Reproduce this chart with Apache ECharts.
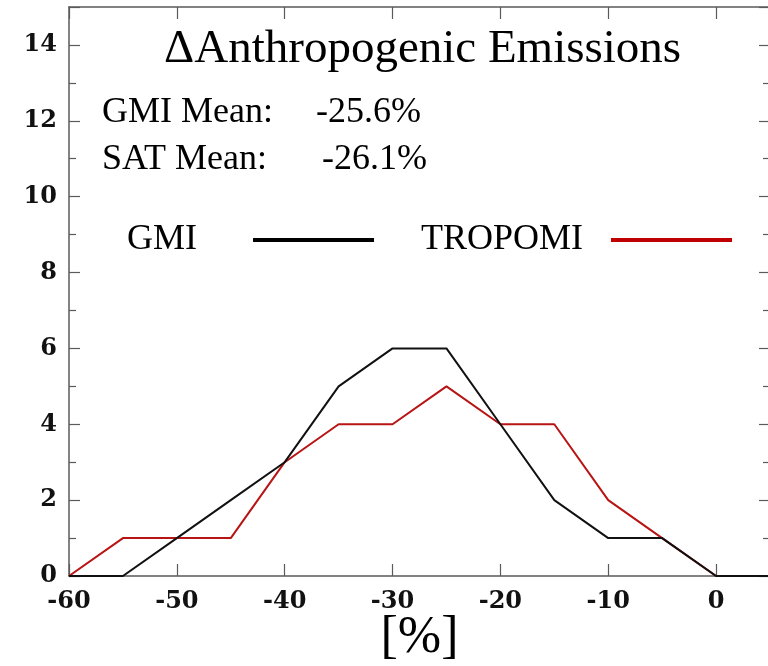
<!DOCTYPE html>
<html>
<head>
<meta charset="utf-8">
<script src="https://cdn.jsdelivr.net/npm/echarts@6/dist/echarts.min.js"></script>
<style>
  html, body { margin: 0; padding: 0; background: #fff; }
  #chart { width: 768px; height: 666px; }
</style>
</head>
<body>
<div id="chart"></div>
<script>
// bin centres [%] and counts
var binX = [-60, -55, -50, -45, -40, -35, -30, -25, -20, -15, -10, -5, 0, 5];
var gmiCounts = [0, 0, 1, 2, 3, 5, 6, 6, 4, 2, 1, 1, 0, 0];
var tropomiCounts = [0, 1, 1, 1, 3, 4, 4, 5, 4, 4, 2, 1, 0, 0];
var gmiMean = '-25.6%';
var satMean = '-26.1%';

var toPairs = function (xs, ys) {
    var out = [];
    for (var i = 0; i < xs.length; i++) {
        out.push([xs[i], ys[i]]);
    }
    return out;
};

var axisGray = '#5a5a5a';
var serif = '"Liberation Serif", "Times New Roman", serif';
var tickFont = '"DejaVu Serif", serif';

var myChart = echarts.init(document.getElementById('chart'));

// legend text first, then a long line; fixed-width rich box keeps the gap
var legendBox = function (left, textWidth, name) {
    return {
        data: [name],
        left: left,
        top: 217,
        align: 'right',
        icon: 'rect',
        itemWidth: 121,
        itemHeight: 4,
        formatter: '{t|{name}}',
        textStyle: {
            rich: {
                t: { fontFamily: serif, fontSize: 36, color: '#000', width: textWidth, align: 'left' }
            }
        }
    };
};

var option = {
    animation: false,
    backgroundColor: '#fff',
    title: {
        text: '\u0394Anthropogenic Emissions',
        left: 159,
        top: 21,
        textStyle: { fontFamily: serif, fontSize: 47, fontWeight: 'normal', color: '#000' }
    },
    legend: [
        legendBox(122, 121, 'GMI'),
        legendBox(416, 185, 'TROPOMI')
    ],
    graphic: [
        { type: 'text', left: 102, top: 95, style: { text: 'GMI Mean:', font: '36px ' + serif, fill: '#000' } },
        { type: 'text', left: 316, top: 95, style: { text: gmiMean, font: '36px ' + serif, fill: '#000' } },
        { type: 'text', left: 102, top: 142, style: { text: 'SAT Mean:', font: '36px ' + serif, fill: '#000' } },
        { type: 'text', left: 322, top: 142, style: { text: satMean, font: '36px ' + serif, fill: '#000' } }
    ],
    grid: {
        left: 69,
        right: -2,
        top: 7,
        bottom: 90,
        outerBoundsMode: 'none'
    },
    xAxis: [
        {
            type: 'value',
            position: 'bottom',
            min: -60,
            max: 5,
            interval: 10,
            name: '[%]',
            nameLocation: 'middle',
            nameGap: 36,
            nameMoveOverlap: false,
            nameTextStyle: { fontFamily: serif, fontSize: 52, color: '#000' },
            axisLine: { show: true, onZero: false, lineStyle: { color: axisGray, width: 1.5 } },
            axisTick: { show: true, inside: true, length: 12, lineStyle: { color: axisGray, width: 1.2 } },
            axisLabel: {
                margin: 14,
                fontFamily: tickFont,
                fontWeight: 'bold',
                fontSize: 24,
                color: '#111',
                showMaxLabel: false
            },
            splitLine: { show: false }
        },
        {
            type: 'value',
            position: 'top',
            min: -60,
            max: 5,
            interval: 10,
            axisLine: { show: true, onZero: false, lineStyle: { color: axisGray, width: 1.5 } },
            axisTick: { show: true, inside: true, length: 12, lineStyle: { color: axisGray, width: 1.2 } },
            axisLabel: { show: false },
            splitLine: { show: false }
        }
    ],
    yAxis: [
        {
            type: 'value',
            position: 'left',
            min: 0,
            max: 15,
            interval: 2,
            axisLine: { show: true, onZero: false, lineStyle: { color: axisGray, width: 1.5 } },
            axisTick: { show: true, inside: true, length: 11, lineStyle: { color: axisGray, width: 1.2 } },
            minorTick: { show: true, splitNumber: 2, length: 7, lineStyle: { color: axisGray, width: 1.2 } },
            axisLabel: {
                margin: 12,
                fontFamily: tickFont,
                fontWeight: 'bold',
                fontSize: 24,
                color: '#111',
                showMaxLabel: false
            },
            splitLine: { show: false }
        },
        {
            type: 'value',
            position: 'right',
            min: 0,
            max: 15,
            interval: 2,
            axisLine: { show: true, onZero: false, lineStyle: { color: axisGray, width: 1.5 } },
            axisTick: { show: true, inside: true, length: 11, lineStyle: { color: axisGray, width: 1.2 } },
            minorTick: { show: true, splitNumber: 2, length: 7, lineStyle: { color: axisGray, width: 1.2 } },
            axisLabel: { show: false },
            splitLine: { show: false }
        }
    ],
    series: [
        {
            name: 'TROPOMI',
            type: 'line',
            data: toPairs(binX, tropomiCounts),
            symbol: 'none',
            color: '#c00000',
            lineStyle: { color: '#b81414', width: 2 }
        },
        {
            name: 'GMI',
            type: 'line',
            data: toPairs(binX, gmiCounts),
            symbol: 'none',
            color: '#000',
            lineStyle: { color: '#111', width: 2 }
        }
    ]
};

myChart.setOption(option);
</script>
</body>
</html>
